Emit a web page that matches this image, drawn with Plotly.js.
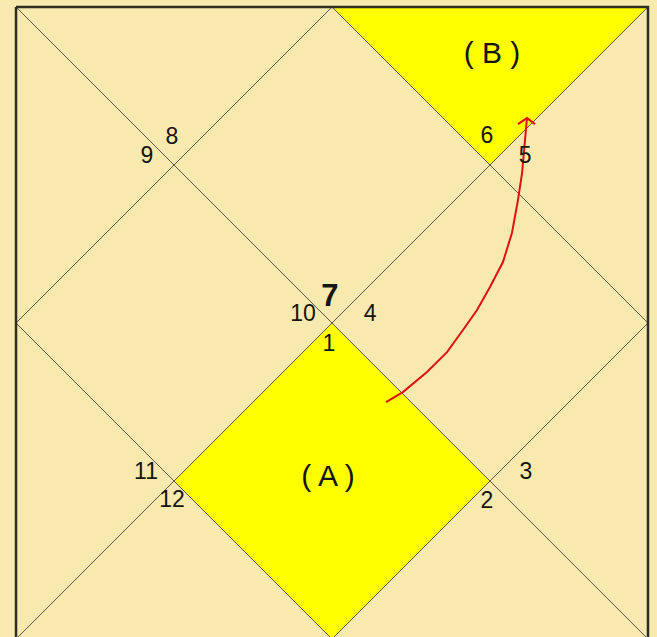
<!DOCTYPE html>
<html><head><meta charset="utf-8">
<script src="https://cdn.plot.ly/plotly-3.0.1.min.js"></script>
<style>html,body{margin:0;padding:0;background:#F8EAAE;} #chart{width:657px;height:637px;}</style>
</head><body><div id="chart"></div>
<script>
// House numbers of the North-Indian style chart and the anchor of each label (chart units, square = 0..4)
const houseLabels = ['1','2','3','4','5','6','7','8','9','10','11','12'];
const houseLabelX = [1.981,2.981,3.228,2.241,3.222,2.981,1.987,0.987,0.829,1.816,0.823,0.987];
const houseLabelY = [2.139,3.133,2.949,1.949,0.949,0.823,1.842,0.829,0.949,1.949,2.950,3.127];
// Highlighted regions
const regionNames = ['( A )','( B )'];
const regionX = [1.975,3.013];
const regionY = [2.981,0.304];
const regionAX = [2,1,2,3,2];
const regionAY = [2,3,4,3,2];
const regionBX = [2,4,3,2];
const regionBY = [0,0,1,0];
// Chart frame and dividing lines
const frameX = [0,4,4,0,0];
const frameY = [0,0,4,4,0];
const gridX = [0,4,null,4,0,null,2,4,2,0,2];
const gridY = [0,4,null,0,4,null,0,2,4,2,0];
// Arrow from A to B
const arrowX = [2.342,2.449,2.601,2.728,2.829,2.918,3.000,3.082,3.139,3.177,3.203,3.215,3.234];
const arrowY = [2.500,2.437,2.310,2.184,2.044,1.918,1.772,1.614,1.430,1.222,1.051,0.905,0.703];
const headX = [3.177,3.234,3.285];
const headY = [0.741,0.703,0.741];

const bg = '#F8EAAE';
const fontFam = '"Liberation Sans", Arial, sans-serif';

const small = houseLabels.map(l => l !== '7');
const traces = [
  {x: regionAX, y: regionAY, mode:'lines', fill:'toself', fillcolor:'#FFFF00', line:{width:0, color:'#FFFF00'}, hoverinfo:'skip'},
  {x: regionBX, y: regionBY, mode:'lines', fill:'toself', fillcolor:'#FFFF00', line:{width:0, color:'#FFFF00'}, hoverinfo:'skip'},
  {x: gridX, y: gridY, mode:'lines', line:{width:1, color:'#5a5648'}, hoverinfo:'skip'},
  {x: frameX, y: frameY, mode:'lines', line:{width:2.5, color:'#2e2e22'}, hoverinfo:'skip'},
  {x: arrowX, y: arrowY, mode:'lines', line:{width:2, color:'#E01010', shape:'linear'}, hoverinfo:'skip'},
  {x: headX, y: headY, mode:'lines', line:{width:2, color:'#E01010'}, hoverinfo:'skip'},
  {x: houseLabelX.filter((v,i)=>small[i]), y: houseLabelY.filter((v,i)=>small[i]),
   text: houseLabels.filter((v,i)=>small[i]), mode:'text', textposition:'middle center',
   textfont:{family:fontFam, size:23, color:'#151515'}, hoverinfo:'skip'},
  {x: houseLabelX.filter((v,i)=>!small[i]), y: houseLabelY.filter((v,i)=>!small[i]),
   text: houseLabels.filter((v,i)=>!small[i]).map(t=>'<b>'+t+'</b>'), mode:'text', textposition:'middle center',
   textfont:{family:fontFam, size:31, color:'#151515'}, hoverinfo:'skip'},
  {x: regionX, y: regionY, text: regionNames, mode:'text', textposition:'middle center',
   textfont:{family:fontFam, size:30, color:'#151515'}, hoverinfo:'skip'}
];

const layout = {
  width:657, height:637,
  margin:{l:0,r:0,t:0,b:0,pad:0},
  paper_bgcolor:bg, plot_bgcolor:bg,
  showlegend:false,
  xaxis:{range:[-0.1013,4.0570], visible:false, fixedrange:true},
  yaxis:{range:[3.987,-0.0443], visible:false, fixedrange:true}
};
Plotly.newPlot('chart', traces, layout, {staticPlot:true, displayModeBar:false});
</script>
</body></html>
